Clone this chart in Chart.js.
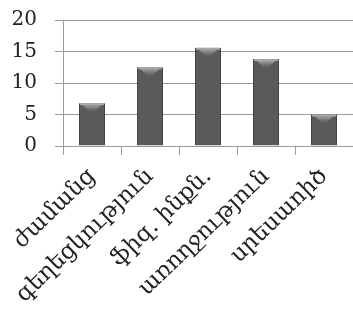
<!DOCTYPE html>
<html>
<head>
<meta charset="utf-8">
<script src="https://cdn.jsdelivr.net/npm/chart.js@4/dist/chart.umd.min.js"></script>
<style>
  html, body { margin: 0; padding: 0; background: #fff; }
  #wrap { width: 353px; height: 320px; }
</style>
</head>
<body>
<div id="wrap"><canvas id="c"></canvas></div>
<script>
const categories = ["ժամանց", "գեղեցկություն", "ֆիզ. ինքն.", "առողջություն", "սրեսաոիծ"];
const values = [6.8, 12.5, 15.6, 13.8, 5.0];
const yTicks = [0, 5, 10, 15, 20];

// horizontal shading that gives each bar a rounded, cylinder-like look
function barFill(ctx) {
  const el = ctx.element;
  const chart = ctx.chart;
  if (!el || !chart.chartArea || !Number.isFinite(el.x) || !Number.isFinite(el.width)) return '#5a5a5a';
  const half = el.width / 2;
  const g = chart.ctx.createLinearGradient(el.x - half, 0, el.x + half, 0);
  g.addColorStop(0, '#3c3c3c');
  g.addColorStop(0.25, '#626262');
  g.addColorStop(0.55, '#727272');
  g.addColorStop(0.85, '#565656');
  g.addColorStop(1, '#333333');
  return g;
}

// light bevel on top of each bar
const bevel = {
  id: 'bevel',
  afterDatasetsDraw(chart) {
    const c = chart.ctx;
    chart.getDatasetMeta(0).data.forEach(bar => {
      const w = bar.width, x = bar.x, y = bar.y;
      if (![w, x, y].every(Number.isFinite)) return;
      c.save();
      c.fillStyle = '#a9a9a9';
      c.fillRect(x - w / 2 + 1, y, w - 2, 2);
      const g = c.createLinearGradient(0, y, 0, y + 7);
      g.addColorStop(0, '#c4c4c4');
      g.addColorStop(1, 'rgba(150,150,150,0.2)');
      c.fillStyle = g;
      c.beginPath();
      c.moveTo(x - w * 0.36, y + 2);
      c.lineTo(x + w * 0.36, y + 2);
      c.lineTo(x + w * 0.1, y + 8);
      c.lineTo(x - w * 0.1, y + 8);
      c.closePath();
      c.fill();
      c.restore();
    });
  }
};

new Chart(document.getElementById('c'), {
  type: 'bar',
  data: {
    labels: categories,
    datasets: [{
      data: values,
      backgroundColor: barFill,
      borderColor: '#3a3a3a',
      borderWidth: 1,
      barPercentage: 0.45,
      categoryPercentage: 1
    }]
  },
  options: {
    responsive: true,
    maintainAspectRatio: false,
    animation: false,
    layout: { padding: 0 },
    plugins: { legend: { display: false }, tooltip: { enabled: false } },
    scales: {
      x: {
        grid: { offset: true, drawOnChartArea: false, color: '#9a9a9a', tickLength: 9 },
        border: { color: '#9a9a9a' },
        ticks: {
          color: '#222',
          font: { family: 'DejaVu Serif', size: 23 },
          minRotation: 44,
          maxRotation: 44,
          padding: 8,
          autoSkip: false
        },
        afterFit(scale) { scale.height = 174; }
      },
      y: {
        min: 0,
        max: 20,
        afterBuildTicks(scale) { scale.ticks = yTicks.map(v => ({ value: v })); },
        grid: { color: '#9a9a9a', tickLength: 8 },
        border: { color: '#9a9a9a' },
        ticks: {
          color: '#222',
          font: { family: 'DejaVu Serif', size: 20 },
          padding: 18
        },
        afterFit(scale) {
          scale.width = 63;
          scale.paddingTop = 20;
          scale.paddingBottom = 0;
        }
      }
    }
  },
  plugins: [bevel]
});
</script>
</body>
</html>
